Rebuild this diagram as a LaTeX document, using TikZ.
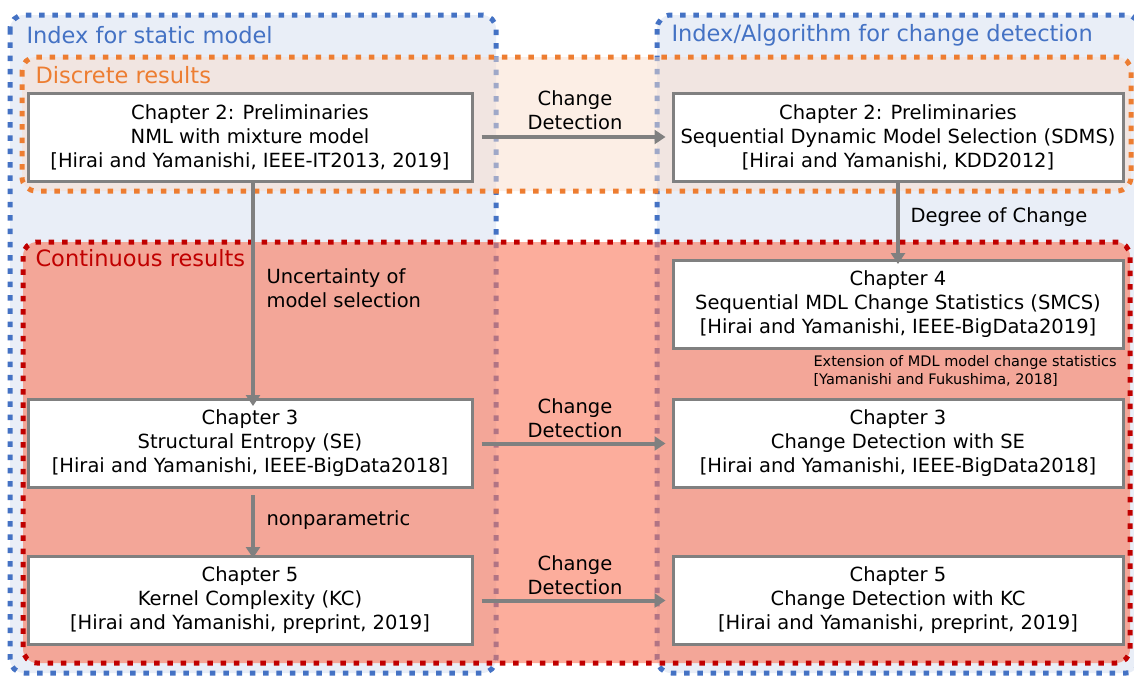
\documentclass[tikz,border=0pt]{standalone}
\usepackage{fontspec}
\setmainfont{DejaVu Sans}
\usetikzlibrary{arrows.meta}
\definecolor{idxblue}{RGB}{68,114,196}
\definecolor{idxfill}{RGB}{233,238,247}
\definecolor{discorange}{RGB}{237,125,49}
\definecolor{discfill}{RGB}{250,222,204}
\definecolor{contred}{RGB}{192,0,0}
\definecolor{contfill}{RGB}{250,118,90}
\definecolor{linegray}{RGB}{128,128,128}
\begin{document}
\begin{tikzpicture}[x=1pt, y=-1pt, every node/.style={text centered},
	dotborder/.style={line width=5pt, dash pattern=on 5.5pt off 7.8pt, rounded corners=14pt},
	chapbox/.style={rectangle, draw=linegray, line width=3pt, fill=white, minimum height=88pt,
		align=center, inner sep=0pt, font=\fontsize{19.5}{24}\selectfont},
	leftbox/.style={chapbox, minimum width=444pt},
	rightbox/.style={chapbox, minimum width=450pt},
	flow/.style={draw=linegray, line width=4pt, -{Triangle[length=11pt, width=14pt]}},
	flowlabel/.style={align=center, font=\fontsize{19.5}{24}\selectfont},
	title/.style={anchor=west, font=\fontsize{22.5}{26}\selectfont}]
	\useasboundingbox (0,0) rectangle (1134,675);

	% index regions
	\draw[dotborder, draw=idxblue, fill=idxfill] (10,15) rectangle (496,673);
	\draw[dotborder, draw=idxblue, fill=idxfill] (657,15) rectangle (1140,673);

	% result regions
	\draw[dotborder, draw=discorange, fill=discfill, fill opacity=0.5] (22,57) rectangle (1131,191);
	\draw[dotborder, draw=contred, fill=contfill, fill opacity=0.6] (23,242) rectangle (1130,663);

	\node[title, text=idxblue] (statictitle) at (23,35) {Index for static model};
	\node[title, text=idxblue] (changetitle) at (668,35) {Index/Algorithm for change detection};
	\node[title, text=discorange] (disctitle) at (32,75) {Discrete results};
	\node[title, text=contred] (conttitle) at (32,258) {Continuous results};

	% chapters
	\node[leftbox] (prelimL) at (250,137)
		{Chapter 2: Preliminaries\\NML with mixture model\\{[Hirai and Yamanishi, IEEE-IT2013, 2019]}};
	\node[leftbox] (se) at (250,443.5)
		{Chapter 3\\Structural Entropy (SE)\\{[Hirai and Yamanishi, IEEE-BigData2018]}};
	\node[leftbox] (kc) at (250,600.5)
		{Chapter 5\\Kernel Complexity (KC)\\{[Hirai and Yamanishi, preprint, 2019]}};
	\node[rightbox] (prelimR) at (898,137)
		{Chapter 2: Preliminaries\\Sequential Dynamic Model Selection (SDMS)\\{[Hirai and Yamanishi, KDD2012]}};
	\node[rightbox] (smcs) at (898,304.5)
		{Chapter 4\\Sequential MDL Change Statistics (SMCS)\\{[Hirai and Yamanishi, IEEE-BigData2019]}};
	\node[rightbox] (sechange) at (898,443.5)
		{Chapter 3\\Change Detection with SE\\{[Hirai and Yamanishi, IEEE-BigData2018]}};
	\node[rightbox] (kcchange) at (898,600.5)
		{Chapter 5\\Change Detection with KC\\{[Hirai and Yamanishi, preprint, 2019]}};

	% connectors
	\draw[flow] (prelimL.east) ++(8,0) -- ([xshift=-6pt]prelimR.west);
	\draw[flow] (se.east) ++(8,0) -- ([xshift=-6pt]sechange.west);
	\draw[flow] (kc.east) ++(8,0) -- ([xshift=-6pt]kcchange.west);
	\draw[flow] ([xshift=3pt]prelimL.south) -- ([xshift=3pt, yshift=-8pt]se.north);
	\draw[flow] ([xshift=3pt, yshift=-6pt]se.south) -- ([xshift=3pt, yshift=-3pt]kc.north);
	\draw[flow] (prelimR.south) -- ([yshift=-5pt]smcs.north);

	\node[flowlabel] (cd1) at (575,110) {Change\\Detection};
	\node[flowlabel] (cd2) at (575,418) {Change\\Detection};
	\node[flowlabel] (cd3) at (575,575) {Change\\Detection};
	\node[flowlabel, anchor=west, align=left] (uncert) at (263,288.5) {Uncertainty of\\model selection};
	\node[flowlabel, anchor=west] (nonpar) at (263,520) {nonparametric};
	\node[flowlabel, anchor=west] (degree) at (907,217) {Degree of Change};
	\node[anchor=west, align=left, font=\fontsize{14.5}{18}\selectfont] (extnote) at (810,371)
		{Extension of MDL model change statistics\\{[Yamanishi and Fukushima, 2018]}};
\end{tikzpicture}
\end{document}
